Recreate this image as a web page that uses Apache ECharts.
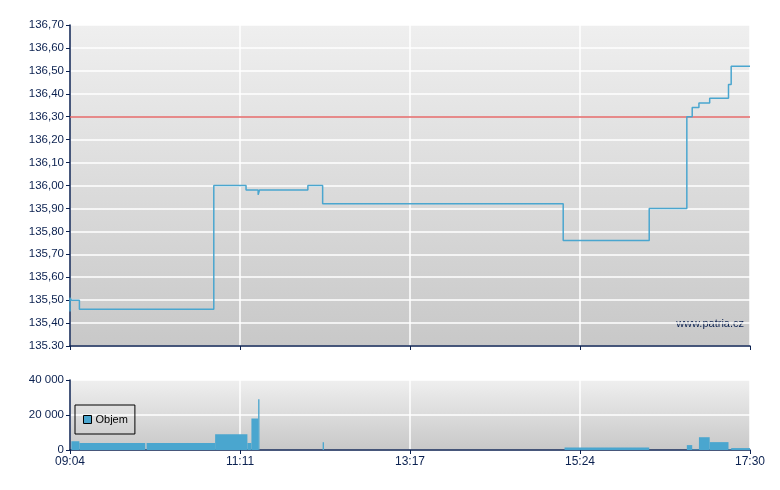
<!DOCTYPE html>
<html>
<head>
<meta charset="utf-8">
<script src="https://cdn.jsdelivr.net/npm/echarts@6/dist/echarts.min.js"></script>
<style>html,body{margin:0;padding:0;background:#fff}#c{width:780px;height:490px}</style>
</head>
<body>
<div id="c"></div>
<script>
// ---- data ----
var sessionStart = "09:04";
var sessionEnd = "17:30";
var priceTimes  = ["09:04","09:04","09:05","09:11","10:51","11:15","11:24","11:25","12:01","12:12","15:11","16:15","16:43","16:47","16:52","17:00","17:14","17:16","17:30"];
var priceValues = [135.45,135.51,135.50,135.46,136.00,135.98,135.96,135.98,136.00,135.92,135.76,135.90,136.30,136.34,136.36,136.38,136.44,136.52,136.52];
var referencePrice = 136.30;
var volStart  = ["09:05","09:11","10:01","10:52","11:16","11:19","11:24","12:12","15:12","16:43","16:47","16:52","17:00","17:14","17:16"];
var volEnd    = ["09:11","10:00","10:52","11:16","11:19","11:24","11:25","12:13","16:15","16:47","16:52","17:00","17:14","17:16","17:30"];
var volValues = [5000,4000,4000,9000,4000,18000,29000,4500,1500,2800,300,7300,4500,300,1100];
var priceTickMin = 135.30, priceTickMax = 136.70, priceTickStep = 0.10;
var volTickMax = 40000, volTickStep = 20000;
var seriesName = "Objem";
var watermark = "www.patria.cz";

function toMin(s){var p=s.split(":");return (+p[0])*60+(+p[1]);}
var t0 = toMin(sessionStart), t1 = toMin(sessionEnd);
function off(s){return toMin(s)-t0;}
function fmtTime(v){var m=Math.round(v+t0);var h=Math.floor(m/60),mm=m%60;return (h<10?"0":"")+h+":"+(mm<10?"0":"")+mm;}
function fmtVol(v){return String(v).replace(/\B(?=(\d{3})+(?!\d))/g," ");}

var priceData = priceTimes.map(function(t,i){return [off(t), priceValues[i]];});
var volData = volStart.map(function(s,i){return [off(s), off(volEnd[i]), volValues[i]];});

var navy = "#0b2150";
var blue = "#4aa6cf";
var font = "Liberation Sans";
var bg = {type:"linear",x:0,y:0,x2:0,y2:1,colorStops:[{offset:0,color:"#efefef"},{offset:1,color:"#c8c8c8"}]};

var chart = echarts.init(document.getElementById("c"), null, {renderer:"canvas"});
var xCommon = {
  type:"value", min:0, max:t1-t0, interval:(t1-t0)/4,
  axisLine:{show:true,lineStyle:{color:navy,width:1.5}},
  axisTick:{show:true,length:4,lineStyle:{color:navy,width:1}},
  splitLine:{show:true,lineStyle:{color:"#ffffff",width:1.5}}
};
chart.setOption({
  animation:false,
  textStyle:{fontFamily:font},
  grid:[
    {left:70,right:30,top:25,height:321,show:true,backgroundColor:bg,borderWidth:0},
    {left:70,right:30,top:380,height:70,show:true,backgroundColor:bg,borderWidth:0}
  ],
  xAxis:[
    Object.assign({gridIndex:0,axisLabel:{show:false}}, xCommon),
    Object.assign({gridIndex:1,axisLabel:{show:true,color:navy,fontSize:12,fontFamily:font,margin:6,formatter:fmtTime}}, xCommon)
  ],
  yAxis:[
    {gridIndex:0,type:"value",min:priceTickMin,max:priceTickMax,interval:priceTickStep,
     axisLine:{show:true,lineStyle:{color:navy,width:1.5}},
     axisTick:{show:true,length:4,lineStyle:{color:navy}},
     splitLine:{show:true,lineStyle:{color:"#ffffff",width:1.5}},
     axisLabel:{color:navy,fontSize:11.5,fontFamily:font,margin:6,formatter:function(v){
       var s=v.toFixed(2); return Math.abs(v-priceTickMin)<1e-6 ? s : s.replace(".",",");}}},
    {gridIndex:1,type:"value",min:0,max:volTickMax,interval:volTickStep,
     axisLine:{show:true,lineStyle:{color:navy,width:1.5}},
     axisTick:{show:true,length:4,lineStyle:{color:navy}},
     splitLine:{show:true,lineStyle:{color:"#ffffff",width:1.5}},
     axisLabel:{color:navy,fontSize:11.5,fontFamily:font,margin:6,formatter:fmtVol}}
  ],
  legend:{
    show:true,left:75,top:405,orient:"horizontal",
    data:[{name:seriesName,icon:"rect"}],
    itemWidth:8,itemHeight:8,itemGap:5,
    padding:[9,7,9,8],borderRadius:0,
    borderColor:"#000",borderWidth:1,backgroundColor:"transparent",
    itemStyle:{borderColor:"#000",borderWidth:1},
    textStyle:{color:"#000",fontSize:11,fontFamily:font,padding:[0,0,0,-1]}
  },
  graphic:[{type:"text",right:36,top:318,style:{text:watermark,fill:navy,font:"11px "+font}}],
  series:[
    {type:"line",xAxisIndex:0,yAxisIndex:0,step:"end",data:priceData,symbol:"none",
     lineStyle:{color:blue,width:1.5},itemStyle:{color:blue},z:3,
     markLine:{silent:true,symbol:["none","none"],label:{show:false},
       lineStyle:{color:"#e06464",type:"solid",width:1.5},data:[{yAxis:referencePrice}],z:2}},
    {type:"custom",name:seriesName,xAxisIndex:1,yAxisIndex:1,data:volData,
     itemStyle:{color:blue},
     encode:{x:[0,1],y:2},
     renderItem:function(params,api){
       var a=api.coord([api.value(0),api.value(2)]);
       var b=api.coord([api.value(1),0]);
       return {type:"rect",shape:{x:a[0],y:a[1],width:Math.max(b[0]-a[0],1),height:b[1]-a[1]},
               style:{fill:blue}};
     }}
  ]
});
</script>
</body>
</html>
